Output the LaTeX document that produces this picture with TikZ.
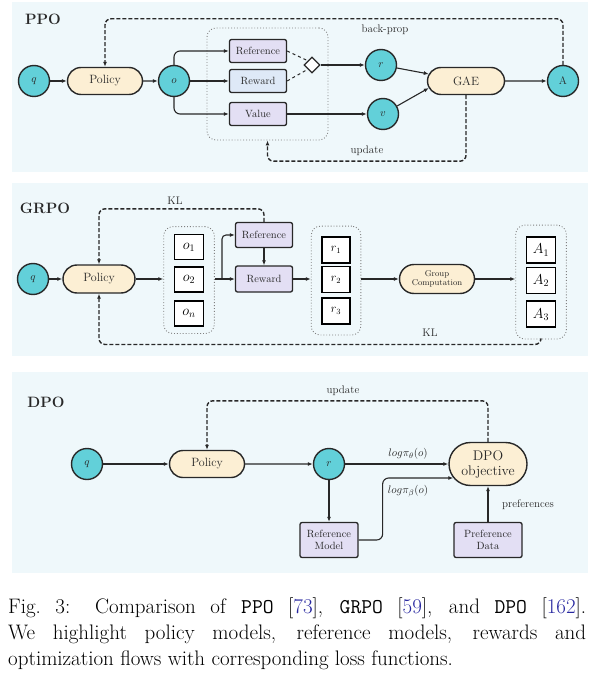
\documentclass[tikz,border=0pt]{standalone}
\usepackage{amsmath}
\usepackage{tikz}
\usetikzlibrary{shapes.geometric, shapes.misc, arrows.meta, positioning, fit, backgrounds}

\definecolor{panelbg}{RGB}{239,248,251}
\definecolor{qcyan}{RGB}{98,208,217}
\definecolor{policybg}{RGB}{252,239,212}
\definecolor{lavender}{RGB}{227,223,244}
\definecolor{lightblue}{RGB}{222,233,247}
\definecolor{ink}{RGB}{40,40,40}
\definecolor{citeblue}{RGB}{40,40,160}

\begin{document}
\begin{tikzpicture}[x=1pt, y=-1pt,
    panel/.style={fill=panelbg, draw=none},
    title/.style={font=\fontsize{15}{15}\selectfont\bfseries, text=ink},
    circ/.style={circle, draw=ink, line width=1.4pt, fill=qcyan, minimum size=31pt, inner sep=0pt, font=\fontsize{11}{11}\selectfont, text=ink},
    pill/.style={rounded rectangle, draw=ink, line width=1.4pt, fill=policybg, minimum width=75pt, minimum height=27pt, inner sep=0pt, font=\fontsize{12}{12}\selectfont, text=ink},
    model/.style={rectangle, rounded corners=2pt, draw=ink, line width=1.3pt, fill=lavender, minimum width=57pt, minimum height=23pt, inner sep=0pt, font=\fontsize{10.5}{12}\selectfont, text=ink},
    item/.style={rectangle, draw=black, line width=1.6pt, fill=white, minimum width=29pt, minimum height=25pt, inner sep=0pt, font=\fontsize{14}{14}\selectfont},
    dotbox/.style={rectangle, rounded corners=9pt, draw=gray, dotted, line width=0.9pt},
    arrow/.style={-{Latex[length=5pt,width=4pt]}, draw=ink, line width=1.1pt},
    back/.style={arrow, dashed, dash pattern=on 4pt off 2pt, line width=1.4pt, rounded corners=6pt},
    lbl/.style={font=\fontsize{11}{11}\selectfont, text=ink, inner sep=1pt}
]
    \useasboundingbox (0,0) rectangle (596,684);

    % Panels
    \path[panel] (12,2) rectangle (588,172);
    \path[panel] (12,183) rectangle (588,356);
    \path[panel] (12,372) rectangle (588,573);

    % PPO
    \node[title] (ppot) at (43,19) {PPO};
    \node[circ] (pq) at (34,81) {$q$};
    \node[pill] (ppol) at (105,81) {Policy};
    \node[circ] (po) at (174,81) {$o$};
    \node[model] (pref) at (258,51) {Reference};
    \node[model, fill=lightblue] (prew) at (258,81) {Reward};
    \node[model] (pval) at (258,114) {Value};
    \node[dotbox, minimum width=121pt, minimum height=112pt] (pgrp) at (267.5,84) {};
    \node[diamond, draw=ink, line width=1.2pt, fill=white, minimum size=16pt, inner sep=0pt] (pdia) at (312,65) {};
    \node[circ] (pr) at (381,65) {$r$};
    \node[circ] (pv) at (383,114) {$v$};
    \node[pill, minimum width=77pt] (gae) at (466,81) {GAE};
    \node[circ] (pa) at (563,81) {A};

    \draw[arrow] (pq) -- (ppol);
    \draw[arrow] (ppol) -- (po);
    \draw[arrow, rounded corners=6pt] (po.north) |- (pref.west);
    \draw[arrow] (po) -- (prew);
    \draw[arrow, rounded corners=6pt] (po.south) |- (pval.west);
    \draw[ink, dashed, line width=1pt] (pref.east) -- (pdia.north west);
    \draw[ink, dashed, line width=1pt] (prew.east) -- (pdia.south west);
    \draw[arrow] (pdia) -- (pr);
    \draw[arrow] (pval) -- (pv);
    \draw[arrow] (pr) -- ([xshift=2pt,yshift=7pt]gae.west);
    \draw[arrow] (pv) -- ([xshift=2pt,yshift=-7pt]gae.west);
    \draw[arrow] (gae) -- (pa);
    \draw[back] (pa.north) -- ++(0,-46) -| (ppol.north);
    \node[lbl] (bpl) at (385,30) {back-prop};
    \draw[back] (gae.south) -- ++(0,66) -| (pgrp.south);
    \node[lbl] (upl) at (367,151) {update};

    % GRPO
    \node[title] (grpot) at (45,208) {GRPO};
    \node[circ] (gq) at (33,279) {$q$};
    \node[pill, minimum width=72pt, minimum height=28pt] (gpol) at (99,279) {Policy};
    \node[item] (o1) at (189,247) {$o_1$};
    \node[item, below=6pt of o1] (o2) {$o_2$};
    \node[item, below=7pt of o2] (on) {$o_n$};
    \node[dotbox, fit=(o1)(on), inner xsep=10pt, inner ysep=7pt] (ocont) {};
    \node[model, minimum height=25pt] (gref) at (264,235) {Reference};
    \node[model, minimum height=26pt] (grew) at (264,279) {Reward};
    \node[item, minimum width=28pt, minimum height=26pt, font=\fontsize{12}{12}\selectfont] (r1) at (336,250) {$r_1$};
    \node[item, minimum width=28pt, minimum height=26pt, font=\fontsize{12}{12}\selectfont, below=2pt of r1] (r2) {$r_2$};
    \node[item, minimum width=28pt, minimum height=26pt, font=\fontsize{12}{12}\selectfont, below=4pt of r2] (r3) {$r_3$};
    \node[dotbox, fit=(r1)(r3), inner sep=10pt] (rcont) {};
    \node[pill, minimum width=75pt, minimum height=29pt, font=\fontsize{8.5}{9.5}\selectfont, align=center] (grp) at (437,279) {Group\\Computation};
    \node[item, minimum height=26pt] (a1) at (541,250) {$A_1$};
    \node[item, minimum height=26pt, below=3pt of a1] (a2) {$A_2$};
    \node[item, minimum height=26pt, below=6pt of a2] (a3) {$A_3$};
    \node[dotbox, fit=(a1)(a3), inner xsep=10pt, inner ysep=11pt] (acont) {};
    \coordinate (gsplit) at (222,279);

    \draw[arrow] (gq) -- (gpol);
    \draw[arrow] (gpol.east) -- (gpol.east -| ocont.west);
    \draw[arrow] (ocont.east |- grew) -- (grew.west);
    \draw[arrow, rounded corners=4pt] (gsplit) |- (gref.west);
    \draw[arrow] (gref) -- (grew);
    \draw[arrow] (grew.east) -- (grew.east -| rcont.west);
    \draw[arrow] (rcont.east |- grp) -- (grp.west);
    \draw[arrow] (grp.east) -- (grp.east -| acont.west);
    \draw[back] (gref.north) -- ++(0,-13) -| (gpol.north);
    \node[lbl] (kl1) at (175,201) {KL};
    \draw[back] (acont.south) -- ++(0,5) -| (gpol.south);
    \node[lbl] (kl2) at (430,333) {KL};

    % DPO
    \node[title] (dpot) at (46,402) {DPO};
    \node[circ] (dq) at (87,464) {$q$};
    \node[pill] (dpol) at (207,464) {Policy};
    \node[circ] (dr) at (329,464) {$r$};
    \node[pill, minimum width=78pt, minimum height=43pt, font=\fontsize{14}{15}\selectfont, align=center] (dobj) at (488,464) {DPO\\objective};
    \node[model, minimum width=58pt, minimum height=35pt, align=center] (dref) at (329,540) {Reference\\Model};
    \node[model, minimum width=68pt, minimum height=35pt, align=center] (dpref) at (488,540) {Preference\\Data};

    \draw[arrow] (dq) -- (dpol);
    \draw[arrow] (dpol) -- (dr);
    \draw[arrow] (dr) -- (dobj);
    \node[lbl] (lgt) at (408,454) {$log\pi_\theta(o)$};
    \draw[arrow] (dr) -- (dref);
    \draw[arrow, rounded corners=6pt] (dref.east) -- ++(24,0) |- ([xshift=5pt,yshift=-14pt]dobj.west);
    \node[lbl] (lgb) at (408,491) {$log\pi_\beta(o)$};
    \draw[arrow] (dpref) -- (dobj);
    \node[lbl] (prl) at (528,505) {preferences};
    \draw[back] (dobj.north) -- ++(0,-41) -| (dpol.north);
    \node[lbl] (upd) at (343,391) {update};

    % Caption
    \node[anchor=north west, inner sep=0pt, text width=578pt, align=justify, font=\fontsize{21}{26}\selectfont] (cap) at (8,598)
        {Fig.~3: Comparison of \texttt{PPO} [\textcolor{citeblue}{73}], \texttt{GRPO} [\textcolor{citeblue}{59}], and \texttt{DPO} [\textcolor{citeblue}{162}].\linebreak We highlight policy models, reference models, rewards and\linebreak optimization flows with corresponding loss functions.};
\end{tikzpicture}
\end{document}
